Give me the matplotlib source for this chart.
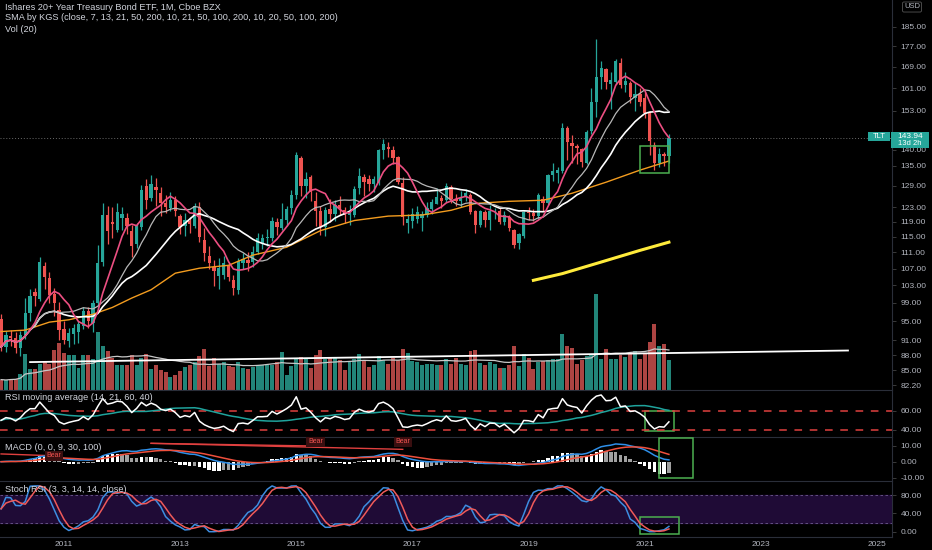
import numpy as np
import pandas as pd
import matplotlib
matplotlib.use("Agg")
import matplotlib.pyplot as plt
from matplotlib.patches import Rectangle
from matplotlib.ticker import FixedLocator, NullLocator, FuncFormatter

plt.rcParams['font.family'] = ['Liberation Sans', 'DejaVu Sans']

BG = '#000000'
TXT = '#b2b5be'
GREEN = '#26a69a'
RED = '#ef5350'

# monthly candles, Dec 2009 .. Jun 2021
months = pd.period_range('2009-12', '2021-06', freq='M')

opens = [95.5,
         89.6, 91.8, 91.5, 89.4, 92.0, 96.8, 101.4, 99.8, 107.6, 104.8, 101.0, 97.5,
         93.4, 90.8, 92.3, 92.7, 94.0, 97.2, 94.6, 99.0, 108.5, 120.9, 119.0, 116.8,
         120.0, 120.0, 116.6, 113.2, 117.6, 129.0, 125.6, 128.6, 127.0, 124.2, 122.6, 124.9,
         120.5, 117.8, 119.2, 117.8, 123.0, 114.2, 110.0, 107.4, 105.2, 105.5, 107.6, 104.3,
         102.0, 108.4, 109.2, 108.6, 111.2, 113.5, 114.6, 114.8, 118.8, 117.3, 119.4, 122.7,
         126.3, 137.5, 129.0, 131.6, 124.8, 122.0, 117.6, 122.4, 121.0, 123.7, 122.3, 120.8,
         120.8, 128.5, 131.5, 131.0, 129.5, 130.0, 140.0, 141.0, 140.0, 137.7, 130.0, 118.5,
         119.3, 119.7, 120.0, 120.9, 122.5, 123.9, 125.5, 124.9, 128.6, 125.2, 124.8, 125.9,
         126.5, 122.0, 118.0, 121.5, 119.4, 121.5, 121.9, 118.9, 120.3, 116.7, 113.5, 115.3,
         121.6, 121.4, 120.5, 125.3, 124.0, 132.3, 132.8, 133.5, 147.0, 142.2, 141.3, 140.4,
         136.0, 146.0, 156.0, 165.2, 168.0, 162.5, 163.2, 170.4, 162.2, 163.0, 157.5, 158.9,
         157.5, 152.0, 141.5, 136.0, 138.6, 138.2]

highs = [96.5,
         93.0, 93.2, 92.7, 93.0, 100.2, 102.2, 102.4, 109.8, 108.7, 106.2, 102.5, 99.2,
         95.0, 93.5, 94.3, 95.0, 98.0, 98.2, 99.6, 113.0, 124.0, 123.3, 123.0, 124.0,
         122.9, 121.3, 118.0, 118.7, 129.2, 131.0, 132.2, 131.4, 128.6, 126.3, 127.3, 126.0,
         121.2, 121.4, 120.3, 124.0, 124.3, 117.2, 112.5, 109.0, 109.5, 110.0, 108.4, 105.5,
         109.5, 110.8, 111.0, 112.5, 116.0, 115.8, 117.0, 120.3, 120.0, 124.2, 123.4, 127.8,
         139.2, 138.0, 133.1, 132.3, 127.2, 123.4, 123.0, 125.2, 125.0, 126.0, 122.9, 123.5,
         129.0, 134.5, 132.5, 132.3, 132.0, 140.4, 143.6, 142.5, 141.2, 138.0, 131.6, 121.0,
         122.6, 123.2, 122.0, 124.3, 125.2, 128.5, 126.5, 129.9, 129.2, 126.7, 127.4, 128.0,
         127.0, 122.3, 122.3, 122.1, 123.5, 122.8, 122.7, 122.0, 120.8, 117.0, 116.0, 122.0,
         123.0, 122.5, 127.0, 126.0, 132.6, 136.0, 134.7, 148.9, 147.8, 144.8, 141.8, 140.6,
         146.4, 160.9, 179.7, 171.3, 168.5, 167.0, 172.0, 172.3, 167.0, 163.5, 163.0, 161.0,
         159.7, 153.0, 142.6, 140.5, 139.4, 145.0]

lows = [88.8,
        88.7, 89.9, 88.5, 87.9, 91.3, 95.0, 98.4, 99.5, 102.2, 99.0, 96.2, 91.0,
        90.3, 89.6, 90.3, 90.5, 93.3, 93.5, 92.8, 97.6, 107.6, 113.2, 114.8, 116.2,
        116.8, 115.8, 109.8, 112.0, 116.8, 122.5, 124.8, 123.4, 120.4, 121.4, 121.8, 120.6,
        115.8, 115.1, 116.0, 117.3, 113.7, 108.8, 107.0, 102.9, 102.2, 104.6, 104.0, 100.9,
        101.0, 106.8, 106.5, 107.3, 110.6, 111.8, 112.5, 114.0, 115.4, 116.8, 117.8, 121.2,
        125.2, 126.0, 125.6, 124.8, 117.7, 115.5, 115.2, 119.0, 119.2, 120.8, 118.5, 118.0,
        120.2, 126.7, 126.0, 127.4, 127.2, 129.2, 137.0, 137.8, 135.6, 129.5, 118.2, 116.0,
        117.3, 118.5, 116.6, 120.3, 121.0, 123.8, 122.8, 124.5, 124.0, 123.3, 123.0, 124.8,
        121.2, 116.1, 117.6, 117.6, 116.8, 119.7, 118.4, 118.2, 116.5, 112.0, 111.9, 114.8,
        119.5, 119.2, 119.6, 121.9, 123.7, 130.5, 129.9, 132.9, 136.7, 135.9, 135.6, 134.8,
        135.7, 145.2, 150.9, 160.6, 160.5, 153.6, 162.4, 161.0, 159.5, 155.8, 152.7, 154.6,
        150.3, 138.5, 133.6, 134.8, 134.9, 136.0]

closes = [89.6,
          92.0, 91.4, 89.4, 92.0, 96.8, 100.6, 100.6, 108.6, 105.0, 100.9, 98.9, 93.2,
          91.1, 92.5, 93.5, 94.3, 97.2, 95.0, 99.0, 108.4, 120.9, 116.5, 118.3, 121.5,
          121.0, 117.7, 112.5, 117.9, 127.9, 124.9, 129.5, 127.8, 124.2, 123.0, 124.9, 122.0,
          117.6, 119.5, 118.4, 123.2, 114.9, 110.9, 108.3, 106.5, 107.1, 108.3, 104.9, 102.4,
          108.8, 109.3, 108.4, 111.2, 114.6, 114.6, 114.9, 119.3, 117.5, 119.8, 122.5, 126.3,
          138.4, 129.1, 131.0, 127.2, 122.0, 117.6, 122.2, 121.1, 123.7, 122.6, 120.8, 121.7,
          128.0, 131.8, 130.2, 129.5, 131.0, 139.8, 142.0, 140.3, 137.5, 130.3, 120.2, 119.7,
          121.0, 121.7, 121.0, 122.6, 124.5, 125.8, 124.7, 128.9, 125.3, 124.8, 125.6, 126.9,
          121.7, 118.0, 121.9, 119.5, 122.0, 121.8, 118.9, 120.7, 117.2, 113.0, 115.6, 121.6,
          121.4, 120.5, 126.4, 124.0, 132.2, 133.3, 133.8, 147.2, 142.5, 141.3, 140.6, 136.2,
          145.9, 156.0, 165.2, 168.3, 163.3, 164.0, 171.1, 162.1, 163.6, 157.8, 158.8, 156.0,
          152.0, 142.8, 136.0, 138.6, 138.0, 143.94]

# volume, millions of shares
volumes = [52,
           48, 57, 57, 82, 182, 107, 103, 132, 145, 132, 198, 235,
           185, 173, 177, 110, 173, 173, 153, 290, 220, 193, 160, 127,
           123, 123, 177, 127, 160, 182, 103, 127, 98, 90, 65, 73,
           93, 113, 127, 140, 170, 207, 120, 160, 132, 140, 120, 115,
           140, 110, 107, 115, 123, 127, 127, 127, 140, 190, 77, 120,
           160, 165, 157, 110, 173, 198, 153, 160, 160, 148, 98, 140,
           157, 182, 148, 115, 123, 170, 148, 132, 160, 148, 207, 187,
           143, 140, 127, 130, 132, 127, 123, 153, 132, 160, 132, 123,
           195, 202, 137, 127, 140, 132, 110, 110, 127, 218, 120, 182,
           160, 103, 140, 147, 148, 153, 157, 278, 218, 210, 132, 148,
           170, 182, 478, 153, 207, 157, 157, 173, 165, 182, 193, 157,
           182, 240, 328, 220, 228, 148]

# 50 and 200 month SMA (history before 2009 not shown)
sma50_months = ['2009-12', '2010-05', '2010-10', '2011-02', '2011-07', '2011-11', '2012-03',
                '2012-07', '2012-12', '2013-05', '2013-11', '2014-04', '2014-11', '2015-06',
                '2016-01', '2016-08', '2017-03', '2017-09', '2018-02', '2018-09', '2019-04',
                '2019-10', '2020-05', '2020-12', '2021-06']
sma50_vals = [92.8, 93.1, 94.8, 95.3, 96.5, 98.0, 100.1, 102.0, 105.9, 107.1, 107.8, 110.3,
              112.3, 116.6, 119.3, 120.5, 120.8, 122.1, 124.0, 124.6, 124.9, 126.9, 130.1,
              133.7, 136.5]
sma200_months = ['2019-02', '2019-08', '2020-04', '2020-12', '2021-06']
sma200_vals = [104.2, 105.8, 108.6, 111.5, 113.6]

# drawings
trend_months = ['2010-06', '2024-07']
trend_vals = [86.6, 88.9]
div_start = ['2012-07', '2012-07', '2009-12']
div_end = ['2015-05', '2016-11', '2010-12']
div_v0 = [11.6, 11.6, 4.9]
div_v1 = [9.9, 7.8, 3.6]
bear_months = ['2010-11', '2015-05', '2016-11']
bear_vals = [3.6, 12.5, 12.5]

year_labels = ['2011', '2013', '2015', '2017', '2019', '2021', '2023', '2025']
price_ticks = [82.2, 85, 88, 91, 95, 99, 103, 107, 111, 115, 119, 123, 129, 135, 140,
               153, 161, 169, 177, 185]

start = months[0]


def mi(m):
    return (pd.Period(m, 'M') - start).n


x = np.arange(len(months))
o = np.array(opens)
h = np.array(highs)
l = np.array(lows)
c = np.array(closes)
v = np.array(volumes)
up = c >= o
cols = np.where(up, GREEN, RED)
vcols = np.where(up, '#228579', '#ad4442')

s = pd.Series(c)
sma7 = s.rolling(7, min_periods=1).mean()
sma13 = s.rolling(13, min_periods=1).mean()
sma21 = s.rolling(21, min_periods=1).mean()
vol_ma = pd.Series(v).rolling(20, min_periods=1).mean()

# RSI 14 (Wilder), seeded neutral
d = np.diff(c)
seed = np.abs(d[:14]).mean() / 2
ag = al = seed
rsi = [50.0]
for dd in d:
    ag = (ag * 13 + max(dd, 0)) / 14
    al = (al * 13 + max(-dd, 0)) / 14
    rsi.append(100 - 100 / (1 + ag / al))
rsi = pd.Series(rsi)
rsi_ma = rsi.rolling(21, min_periods=1).mean()

# MACD, histogram drawn at double scale like the indicator on the chart
ema12 = s.ewm(span=12, adjust=False).mean()
ema26 = s.ewm(span=26, adjust=False).mean()
macd = ema12 - ema26
signal = macd.ewm(span=9, adjust=False).mean()
hist = (macd - signal) * 2
hcols = ['#ffffff' if i == 0 or abs(hist[i]) >= abs(hist[i - 1]) else '#a0a0a0'
         for i in range(len(hist))]

# Stoch RSI 3,3,14,14
lo = rsi.rolling(14, min_periods=1).min()
hi = rsi.rolling(14, min_periods=1).max()
st = ((rsi - lo) / (hi - lo) * 100).fillna(50)
k_line = st.rolling(3, min_periods=1).mean()
d_line = k_line.rolling(3, min_periods=1).mean()

W, H = 932, 550
XL = (-0.22, 184.1)


def fax(top, bottom):
    return [0, 1 - bottom / H, 892 / W, (bottom - top) / H]


def style(a, sep=True):
    a.set_facecolor(BG)
    for sp in ['left', 'top', 'bottom']:
        a.spines[sp].set_visible(False)
    if sep:
        a.spines['top'].set_visible(True)
        a.spines['top'].set_color('#2a2e39')
    a.spines['right'].set_color('#2a2e39')
    a.yaxis.tick_right()
    a.tick_params(axis='y', labelcolor=TXT, color='#444', labelsize=6, length=3,
                  width=0.6, pad=3)
    a.tick_params(axis='x', bottom=False, labelbottom=False)
    a.set_xlim(*XL)
    a.yaxis.set_major_formatter(FuncFormatter(lambda val, p: f'{val:.2f}'))


fig = plt.figure(figsize=(9.32, 5.5), dpi=100, facecolor=BG)

# volume (behind price)
vax = fig.add_axes(fax(0, 390))
vax.axis('off')
vax.set_xlim(*XL)
vax.set_ylim(0, 1950)
vax.bar(x, v, width=0.82, color=vcols)
vax.plot(x, vol_ma, color='#c8c8c8', lw=0.9)

# price
ax = fig.add_axes(fax(0, 390))
ax.set_yscale('log')
style(ax, sep=False)
ax.patch.set_visible(False)
ax.set_ylim(81.3, 196.5)
ax.yaxis.set_major_locator(FixedLocator(price_ticks))
ax.yaxis.set_minor_locator(NullLocator())
ax.vlines(x, l, h, colors=cols, lw=0.9, zorder=2)
ax.bar(x, np.maximum(np.abs(c - o), 0.2), bottom=np.minimum(o, c), width=0.68,
       color=cols, zorder=3)
ax.plot([mi(m) for m in sma50_months], sma50_vals, color='#f39c1f', lw=1.0, zorder=4)
ax.plot([mi(m) for m in sma200_months], sma200_vals, color='#ffeb3b', lw=2.2, zorder=4)
ax.plot(x, sma21, color='#ffffff', lw=1.2, zorder=4)
ax.plot(x, sma13, color='#b8b8b8', lw=0.9, zorder=4)
ax.plot(x, sma7, color='#ec4f82', lw=1.2, zorder=5)
ax.plot([mi(m) for m in trend_months], trend_vals, color='#ffffff', lw=1.3, zorder=4)
ax.axhline(c[-1], color='#6a6a6a', lw=0.7, ls=(0, (1, 2)), zorder=1)
ax.add_patch(Rectangle((mi('2020-12'), 132.9), mi('2021-06') - mi('2020-12'), 141.2 - 132.9,
                       fill=False, ec='#4caf50', lw=1.1, zorder=6))

# RSI
rax = fig.add_axes(fax(390, 437))
style(rax)
rax.set_ylim(32.7, 81.5)
rax.set_yticks([40, 60])
rax.axhline(60, color='#e0403f', lw=1.1, dashes=(5, 5))
rax.axhline(40, color='#e0403f', lw=1.1, dashes=(5, 5))
rax.plot(x, rsi_ma, color='#1fa39c', lw=1.1)
rax.plot(x, rsi, color='#ffffff', lw=1.1)
rax.add_patch(Rectangle((mi('2021-01'), 39.4), mi('2021-07') - mi('2021-01'), 20.1,
                        fill=False, ec='#4caf50', lw=1.1))

# MACD
max_ = fig.add_axes(fax(437, 481))
style(max_)
max_.set_ylim(-12.2, 15.6)
max_.set_yticks([-10, 0, 10])
max_.bar(x, hist, width=0.7, color=hcols, zorder=1)
max_.plot(x, macd, color='#2e8fe8', lw=1.1, zorder=3)
max_.plot(x, signal, color='#ef4f3c', lw=1.1, zorder=3)
for a0, a1, v0, v1 in zip(div_start, div_end, div_v0, div_v1):
    max_.plot([mi(a0), mi(a1)], [v0, v1], color='#e0403f', lw=1.0, zorder=2)
for m, bv in zip(bear_months, bear_vals):
    max_.text(mi(m), bv, 'Bear', color='#ef5350', fontsize=5, ha='center', va='center',
              zorder=4, bbox=dict(boxstyle='square,pad=0.25', fc='#3a0f10', ec='none'))
max_.add_patch(Rectangle((mi('2021-04'), -10.1), mi('2021-11') - mi('2021-04'), 24.9,
                         fill=False, ec='#4caf50', lw=1.1, zorder=5))

# Stoch RSI
sax = fig.add_axes(fax(481, 537))
style(sax)
sax.spines['bottom'].set_visible(True)
sax.spines['bottom'].set_color('#2a2e39')
sax.set_ylim(-11.6, 110.7)
sax.set_yticks([0, 40, 80])
sax.axhspan(20, 80, color='#1f0b36', zorder=0)
sax.axhline(80, color='#6f5a90', lw=0.6, dashes=(3, 3))
sax.axhline(20, color='#6f5a90', lw=0.6, dashes=(3, 3))
sax.plot(x, k_line, color='#3d8de0', lw=1.1)
sax.plot(x, d_line, color='#ef5a5a', lw=1.1)
sax.add_patch(Rectangle((mi('2020-12'), -5.7), mi('2021-08') - mi('2020-12'), 37.1,
                        fill=False, ec='#4caf50', lw=1.1))
sax.set_xticks([mi(y + '-01') for y in year_labels])
sax.set_xticklabels(year_labels)
sax.tick_params(axis='x', bottom=True, labelbottom=True, length=0, labelcolor=TXT,
                labelsize=6, pad=3)


def ftxt(px, py, t, **kw):
    fig.text(px / W, 1 - py / H, t, va='center', zorder=6, **kw)


ftxt(5, 7, 'Ishares 20+ Year Treasury Bond ETF, 1M, Cboe BZX', color='#d1d4dc', fontsize=6.6)
ftxt(5, 18, 'SMA by KGS (close, 7, 13, 21, 50, 200, 10, 21, 50, 100, 200, 10, 20, 50, 100, 200)',
     color='#d1d4dc', fontsize=6.6)
ftxt(5, 29, 'Vol (20)', color='#d1d4dc', fontsize=6.6)
ftxt(5, 398, 'RSI moving average (14, 21, 60, 40)', color='#d1d4dc', fontsize=6.6)
ftxt(5, 447, 'MACD (0, 0, 9, 30, 100)', color='#d1d4dc', fontsize=6.6)
ftxt(5, 490, 'Stoch RSI (3, 3, 14, 14, close)', color='#d1d4dc', fontsize=6.6)

# last price labels
fig.patches.append(Rectangle((868 / W, 1 - 141 / H), 22 / W, 9 / H, transform=fig.transFigure,
                             fc=GREEN, ec='none', zorder=2))
fig.patches.append(Rectangle((891 / W, 1 - 148 / H), 38 / W, 16 / H, transform=fig.transFigure,
                             fc=GREEN, ec='none', zorder=2))
ftxt(879, 136.5, 'TLT', color='#ffffff', fontsize=5.5, ha='center')
ftxt(910, 136.5, f'{c[-1]:.2f}', color='#ffffff', fontsize=6, ha='center')
ftxt(910, 143.5, '13d 2h', color='#ffffff', fontsize=5.5, ha='center')
ftxt(912, 7, 'USD', color=TXT, fontsize=5.5, ha='center',
     bbox=dict(boxstyle='round,pad=0.2', fc=BG, ec='#555555', lw=0.6))

fig.savefig('out.png', dpi=100, facecolor=BG)
